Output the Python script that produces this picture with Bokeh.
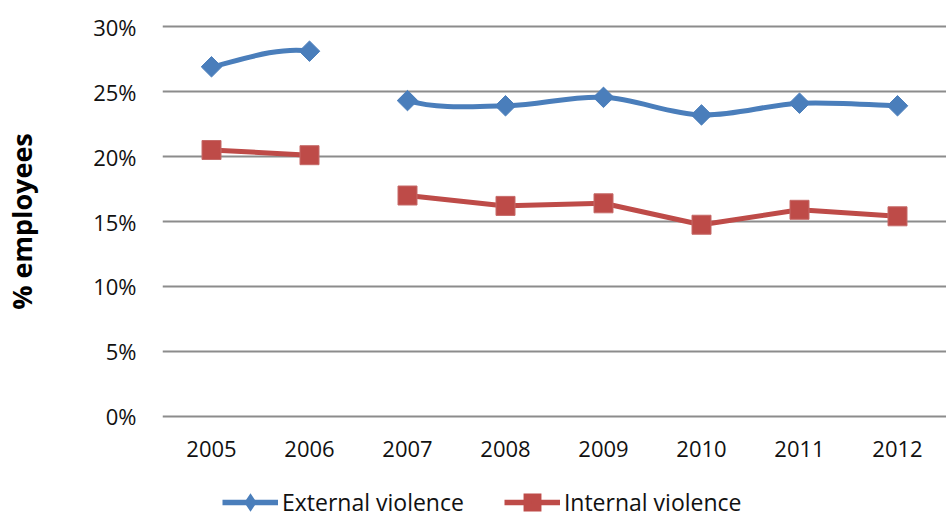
import numpy as np
from bokeh.plotting import figure
from bokeh.layouts import column
from bokeh.models import (ColumnDataSource, Range1d, FixedTicker, PrintfTickFormatter,
                          Legend, LegendItem)
from bokeh.embed import file_html
from bokeh.resources import INLINE

# ---- data ----
years = ["2005", "2006", "2007", "2008", "2009", "2010", "2011", "2012"]
external = [26.9, 28.1, 24.3, 23.9, 24.55, 23.2, 24.1, 23.9]
internal = [20.5, 20.1, 17.0, 16.2, 16.4, 14.75, 15.9, 15.4]
break_after = ["2006"]          # no connecting line after this year
y_ticks = [0, 5, 10, 15, 20, 25, 30]
series_names = ["External violence", "Internal violence"]

BLUE = "#4A7EBB"
RED = "#BE4B48"
FONT = "Open Sans"

xs = list(range(len(years)))

p = figure(width=946, height=470, output_backend="svg", toolbar_location=None,
           x_range=Range1d(-0.5, len(years) - 0.5), y_range=Range1d(-0.154, 30.154),
           min_border_left=160, min_border_right=0, min_border_top=24, min_border_bottom=52)
p.outline_line_color = None
p.background_fill_color = "white"
p.border_fill_color = "white"

# grid
p.xgrid.grid_line_color = None
p.ygrid.ticker = FixedTicker(ticks=y_ticks)
p.ygrid.grid_line_color = "#8C8C8C"
p.ygrid.grid_line_width = 2

# y axis
p.yaxis.ticker = FixedTicker(ticks=y_ticks)
p.yaxis.formatter = PrintfTickFormatter(format="%d%%")
p.yaxis.axis_line_color = None
p.yaxis.major_tick_line_color = None
p.yaxis.minor_tick_line_color = None
p.yaxis.major_label_text_font = FONT
p.yaxis.major_label_text_font_size = "22px"
p.yaxis.major_label_text_color = "#111111"
p.yaxis.major_label_standoff = 20
p.yaxis.axis_label = "% employees"
p.yaxis.axis_label_text_font = FONT
p.yaxis.axis_label_text_font_style = "bold"
p.yaxis.axis_label_text_font_size = "27px"
p.yaxis.axis_label_text_color = "#000000"
p.yaxis.axis_label_standoff = 50

# x axis
p.xaxis.ticker = FixedTicker(ticks=xs)
p.xaxis.major_label_overrides = {i: y for i, y in enumerate(years)}
p.xaxis.axis_line_color = None
p.xaxis.major_tick_line_color = None
p.xaxis.minor_tick_line_color = None
p.xaxis.major_label_text_font = FONT
p.xaxis.major_label_text_font_size = "22px"
p.xaxis.major_label_text_color = "#111111"
p.xaxis.major_label_standoff = 16

# ---- external: smoothed (Catmull-Rom style bezier) ----
ext = np.array(external, dtype=float)
xa = np.array(xs, dtype=float)
n = len(ext)
t = 1.0 / 6.0
seg = dict(x0=[], y0=[], x1=[], y1=[], cx0=[], cy0=[], cx1=[], cy1=[])
for i in range(n - 1):
    if years[i] in break_after:
        continue
    im1 = max(i - 1, 0)
    ip2 = min(i + 2, n - 1)
    seg["x0"].append(xa[i]); seg["y0"].append(ext[i])
    seg["x1"].append(xa[i + 1]); seg["y1"].append(ext[i + 1])
    seg["cx0"].append(xa[i] + (xa[i + 1] - xa[im1]) * t)
    seg["cy0"].append(ext[i] + (ext[i + 1] - ext[im1]) * t)
    seg["cx1"].append(xa[i + 1] - (xa[ip2] - xa[i]) * t)
    seg["cy1"].append(ext[i + 1] - (ext[ip2] - ext[i]) * t)
p.bezier(x0="x0", y0="y0", x1="x1", y1="y1", cx0="cx0", cy0="cy0", cx1="cx1", cy1="cy1",
         source=ColumnDataSource(seg), line_color=BLUE, line_width=5, line_cap="round")

# ---- internal: straight segments ----
int_x, int_y = [], []
for i in range(n):
    int_x.append(xs[i]); int_y.append(internal[i])
    if years[i] in break_after:
        int_x.append(np.nan); int_y.append(np.nan)
p.line(int_x, int_y, line_color=RED, line_width=5, line_join="round")

p.scatter(xs, external, marker="square", angle=np.pi / 4, size=14.5,
          fill_color=BLUE, line_color=BLUE)
p.scatter(xs, internal, marker="square", size=19,
          fill_color=RED, line_color="#C66A68", line_width=1)

# ---- legend strip below the chart (series re-plotted outside its view range) ----
lf = figure(width=946, height=48, output_backend="svg", toolbar_location=None,
            x_range=Range1d(0, 1), y_range=Range1d(0, 1),
            x_axis_location=None, y_axis_location=None,
            min_border_left=0, min_border_right=0, min_border_top=0, min_border_bottom=0)
lf.outline_line_color = None
lf.xgrid.visible = False
lf.ygrid.visible = False
lf.background_fill_color = "white"

e_line = lf.line(xs, external, line_color=BLUE, line_width=5.5)
e_mark = lf.scatter(xs, external, marker="diamond",
                    fill_color=BLUE, line_color=BLUE, line_width=4.5, line_join="miter")
i_line = lf.line(xs, internal, line_color=RED, line_width=5.5)
i_mark = lf.scatter(xs, internal, marker="square",
                    fill_color=RED, line_color=RED, line_width=7.5, line_join="miter")

legend = Legend(items=[LegendItem(label=series_names[0], renderers=[e_line, e_mark]),
                       LegendItem(label=series_names[1], renderers=[i_line, i_mark])],
                orientation="horizontal", location=(60, 0))
legend.glyph_width = 56
legend.glyph_height = 26
legend.label_height = 26
legend.label_standoff = 4
legend.spacing = 40
legend.padding = 0
legend.margin = 0
legend.border_line_color = None
legend.background_fill_alpha = 0
legend.label_text_font = FONT
legend.label_text_font_size = "23px"
legend.label_text_color = "#111111"
lf.add_layout(legend, "center")

layout = column(p, lf, spacing=0)
open("out.html", "w").write(file_html(layout, INLINE))
